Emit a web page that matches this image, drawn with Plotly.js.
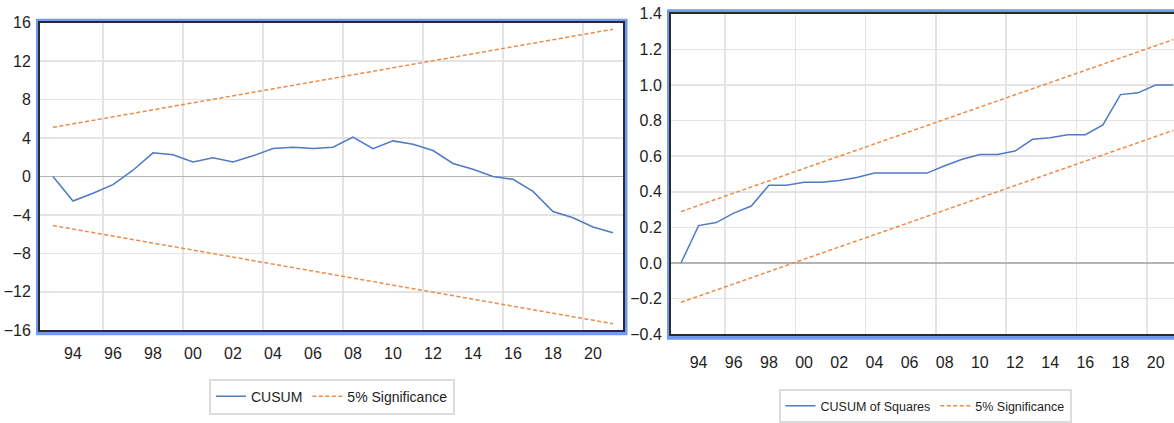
<!DOCTYPE html>
<html><head><meta charset="utf-8">
<script src="https://cdn.plot.ly/plotly-3.0.1.min.js"></script>
<style>html,body{margin:0;padding:0;overflow:hidden;background:#fff;width:1174px;height:423px}#c{width:1190px;height:423px}</style>
</head><body><div id="c"></div>
<script>
// ---- data ----
const years = [1993,1994,1995,1996,1997,1998,1999,2000,2001,2002,2003,2004,2005,2006,2007,2008,2009,2010,2011,2012,2013,2014,2015,2016,2017,2018,2019,2020,2021];
const cusum = [0,-2.56,-1.74,-0.85,0.65,2.46,2.26,1.5,1.95,1.5,2.15,2.9,3.05,2.9,3.05,4.1,2.9,3.7,3.35,2.7,1.35,0.75,0.0,-0.3,-1.55,-3.65,-4.3,-5.25,-5.85];
const cusumUpper = [5.11,5.47,5.83,6.20,6.56,6.93,7.29,7.66,8.02,8.39,8.75,9.12,9.48,9.85,10.21,10.58,10.94,11.31,11.67,12.04,12.40,12.76,13.13,13.49,13.86,14.22,14.59,14.95,15.32];
const cusumLower = [-5.11,-5.47,-5.83,-6.20,-6.56,-6.93,-7.29,-7.66,-8.02,-8.39,-8.75,-9.12,-9.48,-9.85,-10.21,-10.58,-10.94,-11.31,-11.67,-12.04,-12.40,-12.76,-13.13,-13.49,-13.86,-14.22,-14.59,-14.95,-15.32];
const cusumsq = [0,0.21,0.227,0.28,0.32,0.437,0.437,0.454,0.454,0.463,0.48,0.505,0.505,0.503,0.505,0.546,0.583,0.61,0.61,0.629,0.695,0.703,0.721,0.721,0.776,0.946,0.956,1.0,1.0];
const sqUpper = [0.289,0.324,0.358,0.393,0.427,0.462,0.496,0.531,0.565,0.600,0.634,0.669,0.703,0.738,0.772,0.807,0.841,0.876,0.910,0.945,0.979,1.014,1.048,1.083,1.117,1.152,1.186,1.221,1.255];
const sqLower = [-0.221,-0.186,-0.152,-0.117,-0.083,-0.048,-0.014,0.021,0.055,0.090,0.124,0.159,0.193,0.228,0.262,0.297,0.331,0.366,0.400,0.435,0.469,0.504,0.538,0.573,0.607,0.642,0.676,0.711,0.745];
const xTickVals = [1994,1996,1998,2000,2002,2004,2006,2008,2010,2012,2014,2016,2018,2020];
const xTickText = ["94","96","98","00","02","04","06","08","10","12","14","16","18","20"];
const leftYTicks = [-16,-12,-8,-4,0,4,8,12,16];
const rightYTicks = [-0.4,-0.2,0.0,0.2,0.4,0.6,0.8,1.0,1.2,1.4];

// ---- layout helpers ----
const W = 1190, H = 423;
const px = v => v / W, py = v => 1 - v / H;
const blue = '#4f7bc4', orange = '#ee8a45';
const font = {family: 'Liberation Sans, Arial, sans-serif', color: '#1e1e1e'};
const dashPat = '4px,2.5px';

const traces = [
  {x: years, y: cusum, name: 'CUSUM', type: 'scatter', mode: 'lines', line: {color: blue, width: 1.5}, xaxis: 'x', yaxis: 'y', legend: 'legend'},
  {x: years, y: cusumUpper, name: '5% Significance', type: 'scatter', mode: 'lines', line: {color: orange, width: 1.5, dash: dashPat}, xaxis: 'x', yaxis: 'y', legend: 'legend'},
  {x: years, y: cusumLower, name: '5% Significance', showlegend: false, type: 'scatter', mode: 'lines', line: {color: orange, width: 1.5, dash: dashPat}, xaxis: 'x', yaxis: 'y'},
  {x: years, y: cusumsq, name: 'CUSUM of Squares', type: 'scatter', mode: 'lines', line: {color: blue, width: 1.5}, xaxis: 'x2', yaxis: 'y2', legend: 'legend2'},
  {x: years, y: sqUpper, name: '5% Significance', type: 'scatter', mode: 'lines', line: {color: orange, width: 1.5, dash: dashPat}, xaxis: 'x2', yaxis: 'y2', legend: 'legend2'},
  {x: years, y: sqLower, name: '5% Significance', showlegend: false, type: 'scatter', mode: 'lines', line: {color: orange, width: 1.5, dash: dashPat}, xaxis: 'x2', yaxis: 'y2'}
];

function xAxis(domain, range, anchor, standoff) {
  return {domain, range, anchor, tickmode: 'array', tickvals: xTickVals, ticktext: xTickText,
    showgrid: false, zeroline: false, showline: true, mirror: true, linecolor: '#2a2a2a', linewidth: 2,
    ticks: '', ticklabelstandoff: standoff, tickfont: {size: 16},
    minor: {tickmode: 'linear', tick0: 1995.5, dtick: 4, showgrid: true, gridcolor: '#e4e4e4', gridwidth: 1.5, ticks: ''}};
}
function yAxis(domain, range, anchor, vals, fmt) {
  return {domain, range, anchor, tickmode: 'array', tickvals: vals, tickformat: fmt,
    showgrid: true, gridcolor: '#e4e4e4', gridwidth: 1.5,
    zeroline: true, zerolinecolor: '#b4b4b4', zerolinewidth: 1.5,
    showline: true, mirror: true, linecolor: '#2a2a2a', linewidth: 2,
    ticks: '', ticklabelstandoff: 4, tickfont: {size: 16}};
}

const layout = {
  width: W, height: H, margin: {l: 0, r: 0, t: 0, b: 0},
  paper_bgcolor: '#fff', plot_bgcolor: '#fff', font,
  xaxis: xAxis([px(40), px(623)], [1992.35, 2021.5], 'y', 8),
  yaxis: yAxis([py(335), py(23)], [-16, 16], 'x', leftYTicks, 'd'),
  xaxis2: xAxis([px(671), px(1182)], [1992.43, 2021.5], 'y2', 13),
  yaxis2: yAxis([py(339), py(14)], [-0.4, 1.4], 'x2', rightYTicks, '.1f'),
  legend: {orientation: 'h', x: px(332), xanchor: 'center', y: py(384), yanchor: 'top',
    bordercolor: '#dcdcdc', borderwidth: 2, font: {size: 14}, bgcolor: '#fff'},
  legend2: {orientation: 'h', x: px(925), xanchor: 'center', y: py(395), yanchor: 'top',
    bordercolor: '#dcdcdc', borderwidth: 2, font: {size: 12.5}, bgcolor: '#fff'},
  shapes: [
    {type: 'rect', xref: 'paper', yref: 'paper', x0: px(38), x1: px(625.5), y0: py(338), y1: py(21), line: {color: '#6f9bf2', width: 4}, layer: 'below'},
    {type: 'rect', xref: 'paper', yref: 'paper', x0: px(669), x1: px(1184), y0: py(342.5), y1: py(11.5), line: {color: '#6f9bf2', width: 4}, layer: 'below'}
  ]
};

Plotly.newPlot('c', traces, layout, {staticPlot: true, displayModeBar: false});
</script>
</body></html>
